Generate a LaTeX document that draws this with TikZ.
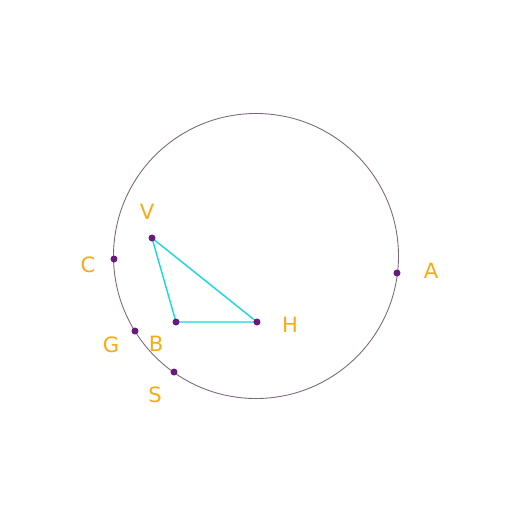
\documentclass[tikz,border=0pt]{standalone}
\usepackage{fontspec}
\setsansfont{DejaVu Sans}
\usepackage{tikz}
\usetikzlibrary{positioning}
\definecolor{lblorange}{RGB}{250,170,20}
\definecolor{sidecyan}{RGB}{20,215,225}
\definecolor{ptpurple}{RGB}{105,25,130}
\definecolor{ringgray}{RGB}{125,105,125}

\begin{document}
\begin{tikzpicture}[
    x=0.02cm, y=-0.02cm,
    pt/.style={circle, fill=ptpurple, inner sep=0pt, minimum size=0.14cm},
    lbl/.style={text=lblorange, font=\sffamily\fontsize{12}{14}\selectfont, inner sep=0pt},
    side/.style={draw=sidecyan, line width=0.8pt},
    ring/.style={draw=ringgray, line width=0.5pt}
]
\useasboundingbox (0,0) rectangle (512,512);

% circle
\coordinate (O) at (256,256);
\draw[ring] (O) circle (142.5);

% triangle
\coordinate (tV) at (152,238);
\coordinate (tB) at (176,322);
\coordinate (tH) at (257,322);
\draw[side] (tV) -- (tB) -- (tH) -- cycle;

% points
\node[pt] (V) at (tV) {};
\node[pt] (B) at (tB) {};
\node[pt] (H) at (tH) {};
\node[pt] (C) at (114,259) {};
\node[pt] (A) at (397,273) {};
\node[pt] (G) at (135,331) {};
\node[pt] (S) at (174,372) {};

% labels
\node[lbl] (lV) at (147,212) {V};
\node[lbl] (lC) at (88,265) {C};
\node[lbl] (lG) at (111,345) {G};
\node[lbl] (lB) at (156,344) {B};
\node[lbl] (lS) at (155,395) {S};
\node[lbl] (lH) at (290,325) {H};
\node[lbl] (lA) at (431,271) {A};
\end{tikzpicture}
\end{document}
